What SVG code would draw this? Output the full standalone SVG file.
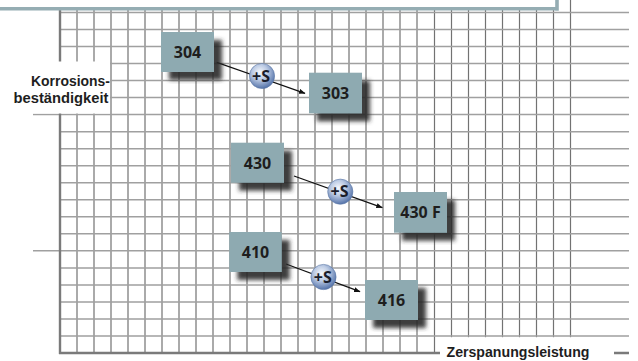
<svg xmlns="http://www.w3.org/2000/svg" width="638" height="361" viewBox="0 0 638 361">
<style>
.vl{stroke:#727272;stroke-width:1.2;fill:none}
.hl{stroke:#a0a0a0;stroke-width:1.5;fill:none}
.ax{stroke:#7a7a7a;stroke-width:2.4;fill:none}
.node rect{fill:#8eaab1}
.node text{font-family:"Open Sans","Liberation Sans",sans-serif;font-weight:700;font-size:16px;fill:#1e1e1e;text-anchor:middle}
.lbl{font-family:"Liberation Sans","Open Sans",sans-serif;font-weight:700;font-size:15.5px;fill:#1e1e1e}
.conn line{stroke:#111;stroke-width:1.3}
.op circle{fill:url(#ball);stroke:#5b77a6;stroke-width:0.6}
.op text{font-family:"Open Sans","Liberation Sans",sans-serif;font-weight:700;font-size:16px;fill:#1a1d2a;text-anchor:middle}
</style>
<defs>
<filter id="sh" x="-30%" y="-30%" width="160%" height="160%">
<feGaussianBlur in="SourceAlpha" stdDeviation="2.2" result="b"/>
<feOffset in="b" dx="8" dy="8" result="o"/>
<feFlood flood-color="#2a2a2a" flood-opacity="0.9"/>
<feComposite in2="o" operator="in" result="s"/>
<feMerge><feMergeNode in="s"/><feMergeNode in="SourceGraphic"/></feMerge>
</filter>
<radialGradient id="ball" cx="0.42" cy="0.35" r="0.65">
<stop offset="0" stop-color="#f6f8fc"/>
<stop offset="0.45" stop-color="#bccbe4"/>
<stop offset="1" stop-color="#5674aa"/>
</radialGradient>
<marker id="ah" markerWidth="7" markerHeight="6" refX="6" refY="3" orient="auto" markerUnits="userSpaceOnUse">
<path d="M0,0.5 L6.5,3 L0,5.5 Z" fill="#111"/>
</marker>
</defs>
<rect width="638" height="361" fill="#fff"/>
<g id="grid">
<path class="vl" d="M77,0V353M94,0V353M111,0V353M128,0V353M145,0V353M162,0V353M179,0V353M196,0V353M213,0V353M230,0V353M247,0V353M264,0V353M281,0V353M298,0V353M315,0V353M332,0V353M349,0V353M366,0V353M383,0V353M400,0V353M417,0V353M434.5,0V353M451.5,0V353M468.5,0V353M485.5,0V353M502.5,0V353M519.5,0V353M536.5,0V353M553.5,0V353M570.5,0V353"/>
<path class="hl" d="M60,12.5H629M60,29.5H629M60,46.5H629M60,63.5H629M60,80.5H629M60,97.5H629M33,114.6H629M60,131.7H629M60,148.7H629M60,165.7H629M60,182.7H629M60,199.8H629M60,216.8H629M60,233.8H629M33,250.8H629M60,267.9H629M60,284.9H629M60,301.9H629M60,319H629M60,336H629"/>
<path class="ax" d="M60,0V354M59,353H629"/>
</g>
<g id="panel">
<rect x="0" y="0" width="557" height="9" fill="#fff"/>
<path d="M0,8.8H558.5M557,0V10.8" stroke="#95adb3" stroke-width="3.6" fill="none"/>
</g>
<g id="axis-y-label">
<rect x="0" y="61.5" width="110" height="52" fill="#fff"/>
<text class="lbl" x="110" y="85.6" text-anchor="end" textLength="79" lengthAdjust="spacingAndGlyphs">Korrosions-</text>
<text class="lbl" x="108.5" y="103.3" text-anchor="end" textLength="95" lengthAdjust="spacingAndGlyphs">beständigkeit</text>
</g>
<g id="axis-x-label">
<rect x="440" y="337.2" width="174" height="24" fill="#fff"/>
<text class="lbl" x="446.5" y="356.7" textLength="143" lengthAdjust="spacingAndGlyphs">Zerspanungsleistung</text>
</g>
<g id="connectors" class="conn">
<line x1="216.7" y1="62.3" x2="305" y2="93.3" marker-end="url(#ah)"/>
<line x1="294" y1="176" x2="382.3" y2="207.7" marker-end="url(#ah)"/>
<line x1="286" y1="264" x2="360" y2="291.7" marker-end="url(#ah)"/>
</g>
<g id="n304" class="node"><rect x="161" y="32" width="53" height="40" filter="url(#sh)"/><text x="187.5" y="58.3">304</text></g>
<g id="n303" class="node"><rect x="309" y="72.7" width="53" height="40.6" filter="url(#sh)"/><text x="335.5" y="99">303</text></g>
<g id="n430" class="node"><rect x="231" y="142.7" width="53" height="40" filter="url(#sh)"/><text x="257.5" y="168.8">430</text></g>
<g id="n430F" class="node"><rect x="394" y="192" width="53" height="40.7" filter="url(#sh)"/><text x="420.5" y="218.4">430 F</text></g>
<g id="n410" class="node"><rect x="229.3" y="232" width="52.4" height="40" filter="url(#sh)"/><text x="255.5" y="258">410</text></g>
<g id="n416" class="node"><rect x="365" y="280" width="53" height="40" filter="url(#sh)"/><text x="391.5" y="306">416</text></g>
<g id="op1" class="op"><circle cx="262" cy="76" r="12.6"/><text x="261" y="81.8">+S</text></g>
<g id="op2" class="op"><circle cx="340.3" cy="191.7" r="12.6"/><text x="339.6" y="197.4">+S</text></g>
<g id="op3" class="op"><circle cx="323.5" cy="277" r="12.6"/><text x="322.8" y="282.7">+S</text></g>
</svg>
